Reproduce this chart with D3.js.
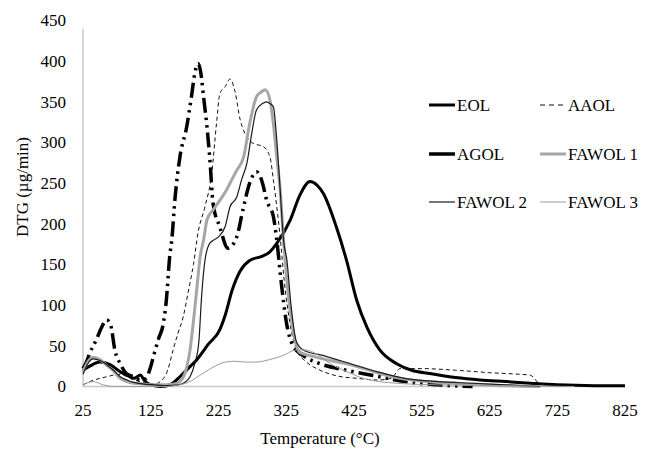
<!DOCTYPE html>
<html>
<head>
<meta charset="utf-8">
<script src="https://cdn.jsdelivr.net/npm/d3@7"></script>
<style>
  body { margin: 0; background: #fff; }
</style>
</head>
<body>
<script>
// DTG curves, temperature (°C) vs DTG (µg/min)
var eolT = [25,35,50,65,80,90,100,110,115,125,140,155,168,180,193,210,227,235,245,257,271,289,300,311,331,345,360,370,380,399,414,429,444,463,488,510,537,575,611,650,685,725,780,825];
var eolV = [20,25,30,27,18,14,10,14,8,2,0,3,12,22,33,52,70,88,118,142,155,160,165,176,205,235,252,248,237,196,155,106,73,45,28,20,16,11,8,6,4,2,1,1];

var aaolT = [25,35,50,60,70,80,90,100,110,120,130,139,150,158,165,173,180,188,195,205,215,222,227,235,242,249,257,264,276,291,301,306,311,316,322,330,340,355,375,400,430,460,480,493,525,575,625,670,685,700,725];
var aaolV = [2,6,10,12,14,15,12,8,6,4,3,6,20,45,65,86,115,150,190,221,262,323,360,369,378,364,328,311,299,295,282,254,221,184,130,80,45,30,20,13,10,8,10,22,22,20,17,15,14,3,1];

var agolT = [25,30,35,45,52,60,66,72,80,89,100,110,118,124,130,137,143,148,153,156,161,168,178,185,190,195,199,203,208,212,217,227,239,252,261,271,281,290,296,306,311,318,325,335,350,375,414,463,500,550,600];
var agolV = [22,30,41,58,72,82,75,45,28,16,12,8,10,22,40,60,75,106,160,180,233,282,319,356,385,397,385,356,319,282,225,196,170,184,217,250,264,250,229,209,180,125,80,50,38,28,20,12,6,2,0];

var fawol1T = [25,32,40,50,60,69,80,90,100,115,130,150,160,168,175,183,188,193,198,203,208,217,228,237,245,252,262,271,281,288,294,301,306,311,316,321,326,332,340,345,365,390,414,440,463,493,550,600,650,700];
var fawol1V = [18,30,36,33,26,20,10,6,4,3,2,2,3,6,15,45,80,120,160,180,205,217,230,242,255,266,282,323,356,362,365,352,323,282,242,180,130,85,50,42,37,32,28,22,16,10,5,3,1,0];

var fawol2T = [25,32,40,50,60,70,80,90,100,115,130,150,165,175,183,190,196,200,205,212,218,225,235,242,252,259,267,274,281,290,296,301,306,311,316,321,326,332,340,350,380,420,460,500,550,600,650,700];
var fawol2V = [15,28,34,32,27,20,12,8,5,3,2,1,2,5,12,28,55,110,155,176,180,184,197,221,233,254,275,311,340,348,350,348,344,303,242,180,155,100,55,45,38,28,18,10,6,4,2,0];

var fawol3T = [25,30,40,55,70,90,120,150,160,180,200,220,235,250,265,280,300,320,340,353,365,390,415,439,488,550,650,750];
var fawol3V = [2,4,6,2,0,0,0,0,1,5,15,25,30,31,30,30,33,38,45,45,42,28,18,10,4,2,1,0];

var xTicks = [25,125,225,325,425,525,625,725,825];
var yTicks = [0,50,100,150,200,250,300,350,400,450];

var width = 646,
    height = 450;

var svg = d3.select("body").append("svg")
    .attr("width", width)
    .attr("height", height)
    .style("font-family", "'Liberation Serif', 'Times New Roman', serif");

var x = d3.scaleLinear().domain([25, 825]).range([83, 625]);
var y = d3.scaleLinear().domain([0, 450]).range([386.5, 20.5]);

// axis lines (light grey, no ticks)
svg.append("line")
    .attr("x1", x(25)).attr("x2", x(25))
    .attr("y1", y(440)).attr("y2", y(0))
    .attr("stroke", "#c8c8c8").attr("stroke-width", 1.5);
svg.append("line")
    .attr("x1", x(25)).attr("x2", x(825))
    .attr("y1", y(0)).attr("y2", y(0))
    .attr("stroke", "#c8c8c8").attr("stroke-width", 1.5);

svg.selectAll("text.ytick")
    .data(yTicks)
    .enter().append("text")
    .attr("class", "ytick")
    .attr("x", x(25) - 17)
    .attr("y", function(d){ return y(d) })
    .attr("dy", "0.35em")
    .attr("text-anchor", "end")
    .attr("fill", "#000")
    .style("font-size", "17px")
    .text(function(d){ return d });

svg.selectAll("text.xtick")
    .data(xTicks)
    .enter().append("text")
    .attr("class", "xtick")
    .attr("x", function(d){ return x(d) })
    .attr("y", y(0) + 29)
    .attr("text-anchor", "middle")
    .attr("fill", "#000")
    .style("font-size", "17px")
    .text(function(d){ return d });

svg.append("text")
    .attr("x", 320).attr("y", 444)
    .attr("text-anchor", "middle")
    .attr("fill", "#000")
    .style("font-size", "17px")
    .text("Temperature (°C)");

svg.append("text")
    .attr("transform", "translate(28,187) rotate(-90)")
    .attr("text-anchor", "middle")
    .attr("fill", "#000")
    .style("font-size", "17px")
    .text("DTG (µg/min)");

var series = [
    {name: "EOL",     t: eolT,    v: eolV,    color: "#000",    w: 3,   dash: null,              legDash: null},
    {name: "AAOL",    t: aaolT,   v: aaolV,   color: "#111",    w: 1,   dash: "4,3",             legDash: "5,4"},
    {name: "AGOL",    t: agolT,   v: agolV,   color: "#000",    w: 3.5, dash: "15,5,2.5,5,2.5,5", legDash: null},
    {name: "FAWOL 1", t: fawol1T, v: fawol1V, color: "#a6a6a6", w: 3,   dash: null,              legDash: null},
    {name: "FAWOL 2", t: fawol2T, v: fawol2V, color: "#1a1a1a", w: 1.2, dash: null,              legDash: null},
    {name: "FAWOL 3", t: fawol3T, v: fawol3V, color: "#9a9a9a", w: 1,   dash: null,              legDash: null}
];

var line = d3.line()
    .x(function(d){ return x(d[0]) })
    .y(function(d){ return y(d[1]) })
    .curve(d3.curveMonotoneX);

series.forEach(function(s){
    var pts = s.t.map(function(t, i){ return [t, s.v[i]] });
    svg.append("path")
        .datum(pts)
        .attr("fill", "none")
        .attr("stroke", s.color)
        .attr("stroke-width", s.w)
        .attr("stroke-dasharray", s.dash)
        .attr("stroke-linejoin", "round")
        .attr("d", line);
});

// legend, 2 columns x 3 rows
var legX = [429, 540], legY = [105, 154, 202];
series.forEach(function(s, i){
    var lx = legX[i % 2], ly = legY[Math.floor(i / 2)];
    svg.append("line")
        .attr("x1", lx).attr("x2", lx + 26)
        .attr("y1", ly).attr("y2", ly)
        .attr("stroke", s.color)
        .attr("stroke-width", s.w)
        .attr("stroke-dasharray", s.legDash);
    svg.append("text")
        .attr("x", lx + 28).attr("y", ly)
        .attr("dy", "0.35em")
        .attr("fill", "#000")
        .style("font-size", "17px")
        .text(s.name);
});
</script>
</body>
</html>
